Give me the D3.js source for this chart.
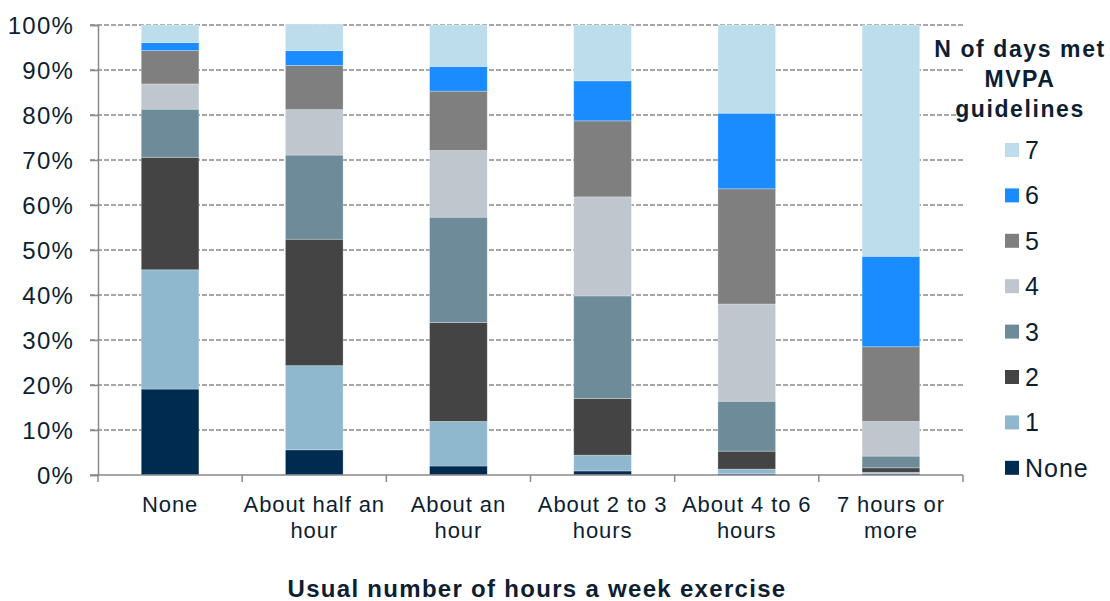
<!DOCTYPE html>
<html>
<head>
<meta charset="utf-8">
<script src="https://cdn.jsdelivr.net/npm/d3@7"></script>
<style>
  html, body { margin: 0; padding: 0; background: #fff; }
  svg { display: block; font-family: Arial, "Liberation Sans", sans-serif; }
</style>
</head>
<body>
<svg id="chart" width="1110" height="601"></svg>
<script>
// ---- data ----
const categories = ["None", "About half an hour", "About an hour", "About 2 to 3 hours", "About 4 to 6 hours", "7 hours or more"];
const categoryLines = [["None"], ["About half an", "hour"], ["About an", "hour"], ["About 2 to 3", "hours"], ["About 4 to 6", "hours"], ["7 hours or", "more"]];
const seriesKeys = ["None", "1", "2", "3", "4", "5", "6", "7"];
const daysNone = [19.1, 5.6, 2.0, 0.9, 0.3, 0.3];
const days1 = [26.5, 18.7, 9.9, 3.5, 1.0, 0.3];
const days2 = [25.0, 28.1, 22.0, 12.6, 4.0, 1.0];
const days3 = [10.7, 18.7, 23.4, 22.8, 11.1, 2.6];
const days4 = [5.6, 10.1, 14.8, 22.0, 21.6, 7.7];
const days5 = [7.4, 9.8, 13.2, 16.9, 25.6, 16.6];
const days6 = [1.8, 3.3, 5.5, 8.9, 16.8, 20.1];
const days7 = [3.9, 5.9, 9.2, 12.4, 19.6, 51.4];
const yTicks = [0, 10, 20, 30, 40, 50, 60, 70, 80, 90, 100];
const legendTitle = ["N of days met", "MVPA", "guidelines"];
const xTitle = "Usual number of hours a week exercise";
const colors = { "None": "#002b50", "1": "#8fb8cf", "2": "#444444", "3": "#6e8b99", "4": "#bfc6ce", "5": "#7f7f7f", "6": "#1a8cff", "7": "#bddcec" };

const seriesValues = [daysNone, days1, days2, days3, days4, days5, days6, days7];
const table = categories.map((c, i) => {
  const row = { category: c };
  seriesKeys.forEach((k, j) => row[k] = seriesValues[j][i]);
  return row;
});

// ---- layout ----
const svg = d3.select("#chart");
const mLeft = 98, mRight = 963, mTop = 25, mBottom = 475;
const textColor = "#0d1e33";
const axisColor = "#8a8a8e";

const x = d3.scaleBand().domain(categories).range([mLeft, mRight]).paddingInner(0.6).paddingOuter(0.3);
const y = d3.scaleLinear().domain([0, 100]).range([mBottom, mTop]);

// gridlines
svg.append("g").selectAll("line").data(yTicks.filter(d => d > 0)).join("line")
  .attr("x1", mLeft - 8).attr("x2", mRight)
  .attr("y1", d => y(d)).attr("y2", d => y(d))
  .attr("stroke", axisColor).attr("stroke-width", 1.5).attr("stroke-dasharray", "5,2");

// bars
const stack = d3.stack().keys(seriesKeys)(table);
svg.append("g").selectAll("g").data(stack).join("g")
  .attr("fill", d => colors[d.key])
  .selectAll("rect").data(d => d).join("rect")
  .attr("x", d => x(d.data.category))
  .attr("width", x.bandwidth())
  .attr("y", d => y(d[1]))
  .attr("height", d => y(d[0]) - y(d[1]))
  .attr("stroke", "rgba(255,255,255,0.35)").attr("stroke-width", 0.8);

// y axis
const yAxis = svg.append("g").attr("transform", `translate(${mLeft},0)`)
  .call(d3.axisLeft(y).tickValues(yTicks).tickFormat(d => d + "%").tickSize(8).tickPadding(16));
yAxis.select(".domain").attr("stroke", axisColor).attr("stroke-width", 1.5);
yAxis.selectAll(".tick line").attr("stroke", axisColor).attr("stroke-width", 1.5);
yAxis.selectAll(".tick text").attr("fill", textColor).attr("font-size", 24).attr("letter-spacing", 1.2)
  .attr("font-family", "Arial, 'Liberation Sans', sans-serif").attr("dy", "0.36em");

// x axis
const bounds = categories.map(c => x(c) - (x.step() - x.bandwidth()) / 2).concat([mRight]);
const xAxisG = svg.append("g");
xAxisG.append("line").attr("x1", mLeft - 8).attr("x2", mRight).attr("y1", mBottom).attr("y2", mBottom)
  .attr("stroke", axisColor).attr("stroke-width", 1.5);
xAxisG.selectAll("line.tk").data(bounds).join("line").attr("class", "tk")
  .attr("x1", d => d).attr("x2", d => d).attr("y1", mBottom).attr("y2", mBottom + 7)
  .attr("stroke", axisColor).attr("stroke-width", 1.5);
xAxisG.selectAll("text").data(categories).join("text")
  .attr("x", d => x(d) + x.bandwidth() / 2)
  .attr("y", 512)
  .attr("text-anchor", "middle").attr("fill", textColor).attr("font-size", 22).attr("letter-spacing", 0.9)
  .each(function(d, i) {
    const t = d3.select(this);
    categoryLines[i].forEach((line, j) => {
      t.append("tspan").attr("x", x(d) + x.bandwidth() / 2).attr("dy", j === 0 ? 0 : 26).text(line);
    });
  });

// x title
svg.append("text").attr("x", 537).attr("y", 597).attr("text-anchor", "middle")
  .attr("font-weight", "bold").attr("font-size", 24).attr("letter-spacing", 1.3)
  .attr("fill", textColor).text(xTitle);

// legend
const lg = svg.append("g");
lg.selectAll("text.lt").data(legendTitle).join("text").attr("class", "lt")
  .attr("x", 1020).attr("y", (d, i) => 57 + i * 30)
  .attr("text-anchor", "middle").attr("font-weight", "bold").attr("font-size", 23).attr("letter-spacing", 1.6)
  .attr("fill", textColor)
  .text(d => d);
const legendKeys = seriesKeys.slice().reverse();
const items = lg.selectAll("g.item").data(legendKeys).join("g").attr("class", "item")
  .attr("transform", (d, i) => `translate(1005, ${150 + i * 45.4})`);
items.append("rect").attr("x", 0).attr("y", -7).attr("width", 14).attr("height", 14).attr("fill", d => colors[d]);
items.append("text").attr("x", 20).attr("y", 0).attr("dy", "0.36em").attr("font-size", 25).attr("letter-spacing", 1)
  .attr("fill", textColor).text(d => d);
</script>
</body>
</html>
